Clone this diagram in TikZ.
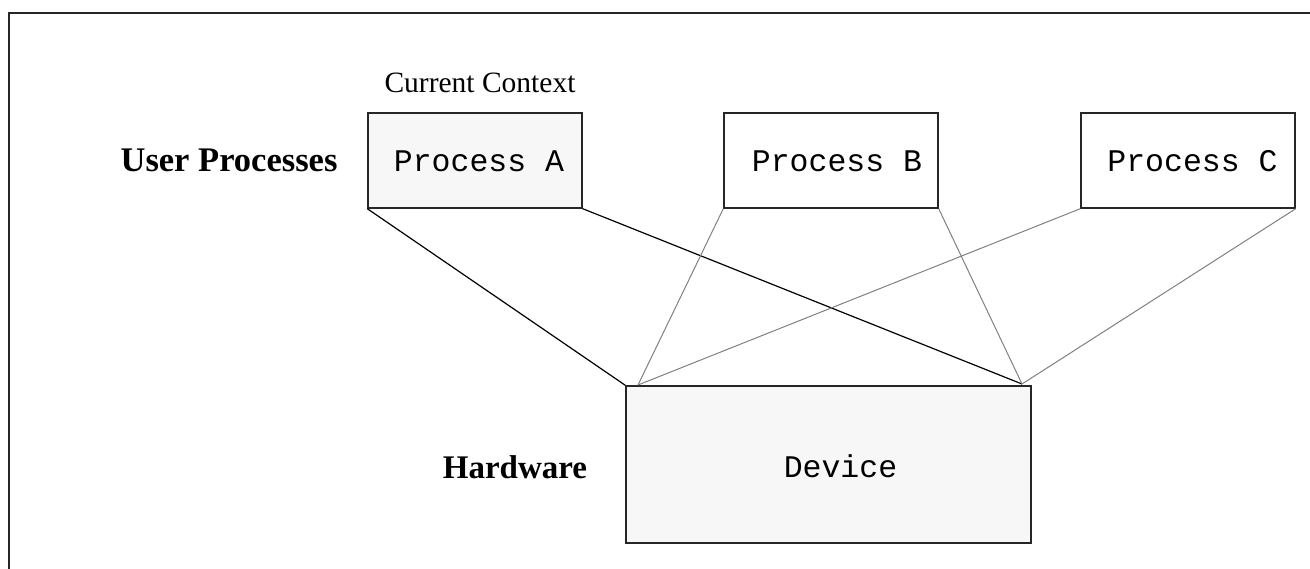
\documentclass[tikz,border=0pt]{standalone}
\usepackage{fontspec}
\setmainfont{Liberation Serif}
\setmonofont{Liberation Mono}
\usetikzlibrary{calc}
\definecolor{boxfill}{HTML}{F7F7F7}
\definecolor{linegray}{HTML}{808080}
\tikzset{
  box/.style={draw=black!85, line width=1.4pt, inner sep=0pt, minimum width=214pt, minimum height=95pt},
  devbox/.style={box, fill=boxfill, minimum width=405pt, minimum height=157pt},
  mono/.style={font=\fontsize{31.5}{36}\selectfont\ttfamily, inner sep=0pt},
  heading/.style={font=\fontsize{33}{38}\selectfont\bfseries, inner sep=0pt},
  caption/.style={font=\fontsize{29.5}{34}\selectfont, inner sep=0pt},
  blackline/.style={draw=black, line width=1.2pt},
  grayline/.style={draw=linegray, line width=1pt},
  frame/.style={draw=black!85, line width=1.8pt}
}
\begin{document}
\begin{tikzpicture}[x=1pt,y=-1pt]
\useasboundingbox (0,0) rectangle (1310,569);
\draw[frame] (9,569) -- (9,13) -- (1310,13);

\node[box, fill=boxfill] (A) at (475,160.5) {};
\node[box] (B) at (831,160.5) {};
\node[box] (C) at (1188,160.5) {};
\node[devbox] (D) at (828.5,464.5) {};

\node[mono] (tA) at ($(A.center)+(4,1)$) {Process A};
\node[mono] (tB) at ($(B.center)+(6,1)$) {Process B};
\node[mono] (tC) at ($(C.center)+(4.5,1)$) {Process C};
\node[mono] (tD) at ($(D.center)+(12,2)$) {Device};

\node[heading, font=\fontsize{34.5}{40}\selectfont\bfseries] (up) at (229,160) {User Processes};
\node[heading] (hw) at (515,467) {Hardware};
\node[caption] (cc) at (480,83) {Current Context};

\coordinate (dl) at (638,385);
\coordinate (dr) at (1022,384);

\draw[blackline] (A.south west) -- (D.north west);
\draw[blackline] (A.south east) -- (dr);
\draw[grayline] (B.south west) -- (dl);
\draw[grayline] (B.south east) -- (dr);
\draw[grayline] (C.south west) -- (dl);
\draw[grayline] (C.south east) -- (dr);
\end{tikzpicture}
\end{document}
